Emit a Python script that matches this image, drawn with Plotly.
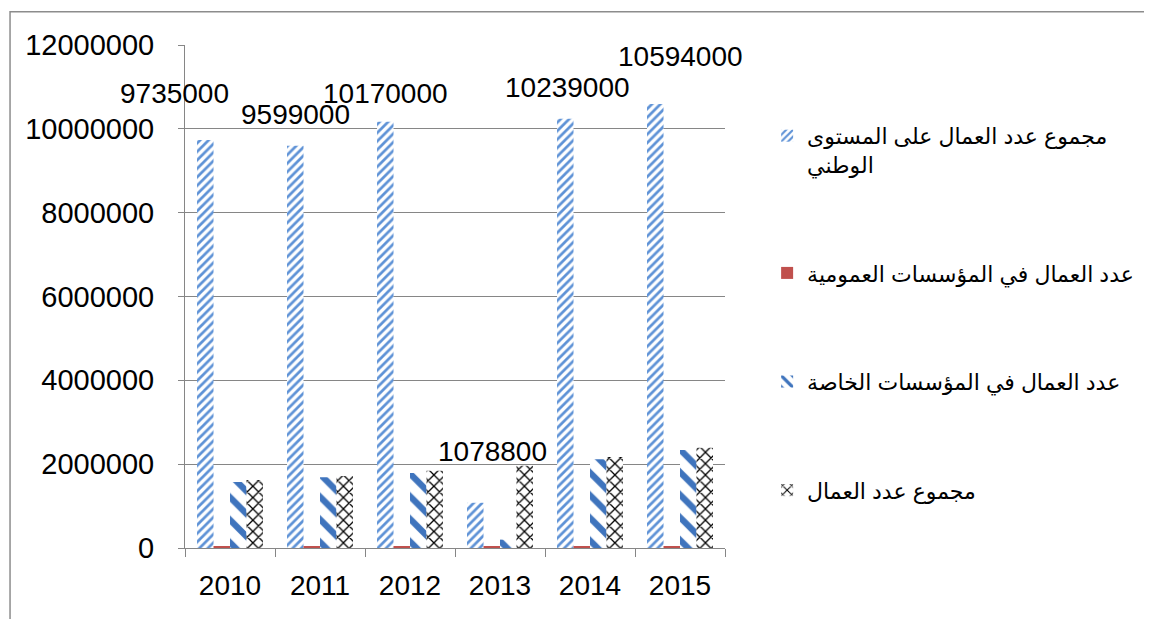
import plotly.graph_objects as go

years = ["2010", "2011", "2012", "2013", "2014", "2015"]

names = [
    "مجموع عدد العمال على المستوى<br>الوطني",
    "عدد العمال في المؤسسات العمومية",
    "عدد العمال في المؤسسات الخاصة",
    "مجموع عدد العمال",
]

national_total = [9735000, 9599000, 10170000, 1078800, 10239000, 10594000]
public_sector = [45000, 45000, 45000, 45000, 45000, 45000]
private_sector = [1575000, 1690000, 1790000, 200000, 2120000, 2340000]
workers_total = [1620000, 1720000, 1840000, 1960000, 2170000, 2390000]

# offsets (px) of the hand-placed data labels, as in the original sheet
label_dx = [-56, -25, -25, -8, -23, 0]
label_dy = [46, 31, 28, 51, 31, 47]

FONT = "Liberation Sans, DejaVu Sans, sans-serif"
GRID = "#868686"

series = [national_total, public_sector, private_sector, workers_total]
patterns = [
    dict(shape="/", fgcolor="#5E92D6", bgcolor="white", fgopacity=1, size=6, solidity=0.45),
    None,
    dict(shape="\\", fgcolor="#3F74BD", bgcolor="white", fgopacity=1, size=16, solidity=0.4),
    dict(shape="x", fgcolor="#000000", bgcolor="white", fgopacity=1, size=8, solidity=0.3),
]

fig = go.Figure()
for i in range(4):
    marker = dict(line=dict(width=0))
    if patterns[i] is None:
        marker["color"] = "#C0504D"
    else:
        marker["color"] = "white"
        marker["pattern"] = patterns[i]
    fig.add_trace(go.Bar(
        x=years, y=series[i], name=names[i], marker=marker,
        legendgroup="g%d" % i,
    ))

# data labels: x given as category index so "2010" is not read as a number
for i in range(len(years)):
    fig.add_annotation(
        x=i, y=national_total[i], text=str(national_total[i]),
        showarrow=False, xshift=label_dx[i], yshift=label_dy[i],
        yanchor="middle", font=dict(family=FONT, size=28, color="black"),
    )

# outer frame of the chart
fig.add_shape(type="rect", xref="paper", yref="paper",
              x0=-0.324, x1=1.9, y0=-0.3, y1=1.066,
              line=dict(color="#8c8c8c", width=1.5), layer="below")

# the page body adds an 8px margin, so the figure is 8px smaller
fig.update_layout(
    width=1144, height=611,
    margin=dict(l=177, r=427, t=37, b=71, autoexpand=False),
    plot_bgcolor="white", paper_bgcolor="white",
    barmode="group", bargap=0.267, bargroupgap=0,
    font=dict(family=FONT, size=28, color="black"),
    showlegend=True,
    legend=dict(
        x=1.078, y=0.861, xanchor="left", yanchor="top",
        font=dict(family=FONT, size=22, color="black"),
        tracegroupgap=77, valign="top", bgcolor="rgba(0,0,0,0)",
    ),
    xaxis=dict(
        type="category", range=[-0.5, len(years) - 0.5],
        showline=True, linecolor=GRID, linewidth=1,
        ticks="outside", tickson="boundaries", ticklen=8, tickcolor=GRID,
        showgrid=False, ticklabelstandoff=12,
    ),
    yaxis=dict(
        range=[0, 12000000], dtick=2000000, tickformat="d",
        showline=True, linecolor=GRID, linewidth=1,
        showgrid=True, gridcolor=GRID, gridwidth=1, zeroline=False,
        ticks="outside", ticklen=6, tickcolor=GRID, ticklabelstandoff=18,
        tickfont=dict(size=29),
    ),
)

fig.write_html("out.html")
